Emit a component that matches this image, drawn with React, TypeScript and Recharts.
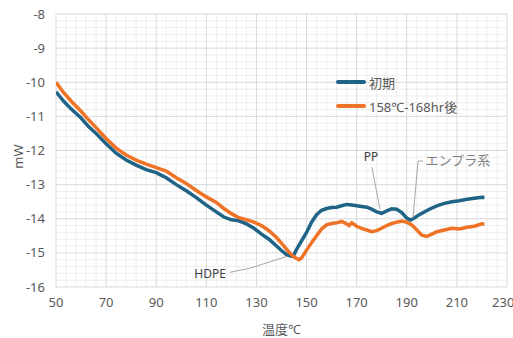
import React from "react";
import {
  LineChart,
  Line,
  XAxis,
  YAxis,
  CartesianGrid,
  Legend,
  ReferenceLine,
  ReferenceDot,
} from "recharts";

// DSC curves: temperature (°C) vs heat flow (mW)
const initialTemps = [
  50, 53, 56, 60, 63, 66, 70, 74, 78, 82, 86, 90, 94, 98, 102, 106, 110, 114, 117, 120, 123, 126, 129,
  132, 135, 138, 140, 142, 144, 145, 146, 148, 150, 152, 154, 156, 158, 160, 162, 164, 166, 168, 170,
  172, 174, 176, 178, 180, 182, 184, 186, 188, 190, 191.5, 193, 195, 197, 199, 202, 205, 208, 211, 214,
  217, 220, 221,
];
const initialMw = [
  -10.28, -10.55, -10.78, -11.05, -11.3, -11.5, -11.8, -12.08, -12.28, -12.43, -12.56, -12.65, -12.8,
  -13.0, -13.18, -13.38, -13.6, -13.8, -13.95, -14.03, -14.06, -14.15, -14.28, -14.45, -14.6, -14.8,
  -14.93, -15.05, -15.1, -15.05, -14.9, -14.65, -14.4, -14.1, -13.88, -13.75, -13.7, -13.67, -13.66,
  -13.62, -13.58, -13.6, -13.62, -13.64, -13.66, -13.72, -13.8, -13.84, -13.77, -13.71, -13.72, -13.82,
  -13.98, -14.04, -13.98, -13.88, -13.8, -13.72, -13.62, -13.55, -13.5, -13.47, -13.43, -13.4, -13.37,
  -13.38,
];

const agedTemps = [
  50, 53, 56, 60, 63, 66, 70, 74, 78, 82, 86, 90, 94, 98, 102, 106, 110, 114, 117, 120, 123, 126, 129,
  132, 135, 138, 141, 143, 145, 147, 148, 150, 152, 154, 156, 158, 160, 162, 164, 166, 167, 168, 170,
  172, 174, 176, 178, 180, 182, 184, 186, 188, 190, 192, 194, 196, 198, 200, 202, 205, 208, 211, 214,
  217, 220, 221,
];
const agedMw = [
  -10.0, -10.3, -10.55, -10.85, -11.1, -11.33, -11.65, -11.93, -12.13, -12.28, -12.4, -12.5, -12.6, -12.8,
  -12.97, -13.17, -13.36, -13.52, -13.7, -13.85, -13.97, -14.03, -14.1, -14.2, -14.35, -14.55, -14.8,
  -14.98, -15.12, -15.2, -15.15, -14.92, -14.7, -14.5, -14.3, -14.18, -14.14, -14.12, -14.08, -14.15,
  -14.2, -14.12, -14.22, -14.28, -14.33, -14.38, -14.35, -14.28, -14.2, -14.14, -14.1, -14.07, -14.1,
  -14.18, -14.33, -14.48, -14.52, -14.45, -14.38, -14.33, -14.28, -14.3, -14.25, -14.22, -14.15, -14.16,
];

const xTicks = [50, 70, 90, 110, 130, 150, 170, 190, 210, 230];
const yTicks = [-16, -15, -14, -13, -12, -11, -10, -9, -8];
const seriesNames = ["初期", "158℃-168hr後"];

const BLUE = "#1f6386";
const ORANGE = "#ee7326";
const TEXT = "#595959";

const initialData = initialTemps.map((t, i) => ({ t, v: initialMw[i] }));
const agedData = agedTemps.map((t, i) => ({ t, v: agedMw[i] }));

// minor grid: 5 divisions per major step
const minorX: number[] = [];
for (let v = 50; v <= 230; v += 4) if ((v - 50) % 20 !== 0) minorX.push(v);
const minorY: number[] = [];
for (let k = 0; k <= 40; k++) if (k % 5 !== 0) minorY.push(-16 + k * 0.2);

const font = '"Noto Sans", "Noto Sans CJK JP", sans-serif';

function LegendBox() {
  const colors = [BLUE, ORANGE];
  return (
    <div style={{ fontFamily: font, fontSize: 13, color: TEXT }}>
      {seriesNames.map((n, i) => (
        <div key={n} style={{ display: "flex", alignItems: "center", height: 24 }}>
          <div
            style={{ width: 30, height: 4, borderRadius: 2, background: colors[i], marginRight: 3 }}
          />
          <span>{n}</span>
        </div>
      ))}
    </div>
  );
}

export default function App() {
  return (
    <div style={{ position: "fixed", left: 0, top: 0, width: 513, height: 338, background: "#fff" }}>
      <LineChart width={513} height={338} margin={{ top: 14, right: 6, bottom: 21, left: 0 }}>
        <CartesianGrid
          stroke="#eeeeee"
          verticalCoordinatesGenerator={({ offset }: any) =>
            minorX.map((v) => offset.left + ((v - 50) / 180) * offset.width)
          }
          horizontalCoordinatesGenerator={({ offset }: any) =>
            minorY.map((v) => offset.top + ((-8 - v) / 8) * offset.height)
          }
        />
        <CartesianGrid stroke="#d9d9d9" />
        <XAxis
          dataKey="t"
          type="number"
          domain={[50, 230]}
          ticks={xTicks}
          axisLine={false}
          tickLine={false}
          height={30}
          tickMargin={5}
          tick={{ fill: TEXT, fontSize: 13, fontFamily: font }}
          allowDataOverflow
          label={{ value: "温度℃", position: "bottom", offset: 8, fill: TEXT, fontSize: 13, fontFamily: font }}
        />
        <YAxis
          type="number"
          domain={[-16, -8]}
          ticks={yTicks}
          axisLine={false}
          tickLine={false}
          width={56}
          tickMargin={5}
          tick={{ fill: TEXT, fontSize: 13, fontFamily: font }}
          label={{
            content: (p: any) => {
              const vb = p.viewBox;
              const cx = vb.x + 18;
              const cy = vb.y + vb.height / 2 + 6;
              return (
                <text
                  x={cx}
                  y={cy}
                  transform={`rotate(-90 ${cx} ${cy})`}
                  textAnchor="middle"
                  dominantBaseline="central"
                  fill={TEXT}
                  fontSize={13}
                  fontFamily={font}
                >
                  mW
                </text>
              );
            },
          }}
        />
        <Legend
          layout="horizontal"
          verticalAlign="middle"
          align="center"
          content={() => <LegendBox />}
          wrapperStyle={{ left: 336, top: 70, width: 160, height: 50 }}
        />
        <Line
          data={initialData}
          dataKey="v"
          name={seriesNames[0]}
          type="linear"
          stroke={BLUE}
          strokeWidth={3.5}
          dot={false}
          isAnimationActive={false}
        />
        <Line
          data={agedData}
          dataKey="v"
          name={seriesNames[1]}
          type="linear"
          stroke={ORANGE}
          strokeWidth={3.5}
          dot={false}
          isAnimationActive={false}
        />
        {/* annotation leaders */}
        <ReferenceLine segment={[{ x: 176.1, y: -12.49 }, { x: 179.3, y: -13.72 }]} stroke="#a6a6a6" ifOverflow="visible" />
        <ReferenceLine segment={[{ x: 194.5, y: -12.31 }, { x: 196.5, y: -12.31 }]} stroke="#a6a6a6" ifOverflow="visible" />
        <ReferenceLine segment={[{ x: 194.5, y: -12.31 }, { x: 192.5, y: -13.98 }]} stroke="#a6a6a6" ifOverflow="visible" />
        <ReferenceLine segment={[{ x: 119.4, y: -15.57 }, { x: 127.4, y: -15.45 }]} stroke="#a6a6a6" ifOverflow="visible" />
        <ReferenceLine segment={[{ x: 127.4, y: -15.45 }, { x: 142.2, y: -15.1 }]} stroke="#a6a6a6" ifOverflow="visible" />
        <ReferenceDot
          x={175.7}
          y={-12.19}
          r={0}
          fill="none"
          stroke="none"
          ifOverflow="visible"
          label={{ value: "PP", fill: "#404040", fontSize: 12, fontFamily: font }}
        />
        <ReferenceDot
          x={210.4}
          y={-12.28}
          r={0}
          fill="none"
          stroke="none"
          ifOverflow="visible"
          label={{ value: "エンプラ系", fill: "#7f7f7f", fontSize: 13, fontFamily: font }}
        />
        <ReferenceDot
          x={111.5}
          y={-15.6}
          r={0}
          fill="none"
          stroke="none"
          ifOverflow="visible"
          label={{ value: "HDPE", fill: "#404040", fontSize: 12, fontFamily: font }}
        />
      </LineChart>
    </div>
  );
}
